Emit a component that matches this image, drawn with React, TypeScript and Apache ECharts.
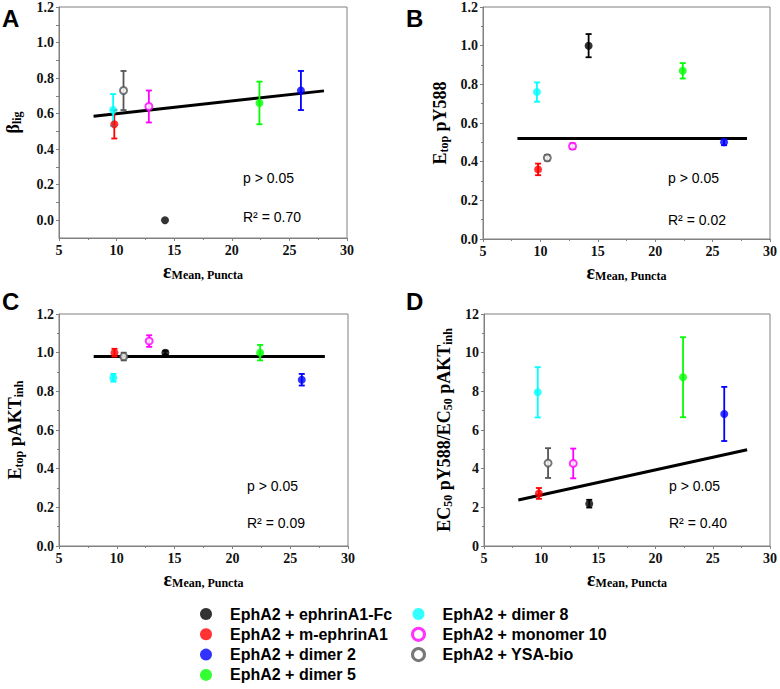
import React, { useEffect, useRef } from "react";
import * as echarts from "echarts";

const groups = [
  "EphA2 + ephrinA1-Fc",
  "EphA2 + m-ephrinA1",
  "EphA2 + dimer 2",
  "EphA2 + dimer 5",
  "EphA2 + dimer 8",
  "EphA2 + monomer 10",
  "EphA2 + YSA-bio",
];
const groupColors = ["#000000", "#ff0000", "#0000ff", "#00ff00", "#00ffff", "#ff00ff", "#555555"];
const hollowGroups = [false, false, false, false, false, true, true];

const epsilonMeanPuncta = [14.2, 9.8, 26.0, 22.4, 9.7, 12.8, 10.6];

const betaLig = [0.0, 0.54, 0.73, 0.66, 0.62, 0.64, 0.73];
const betaLigErr = [0, 0.08, 0.11, 0.12, 0.09, 0.09, 0.11];

const eTopPY588 = [1.0, 0.36, 0.5, 0.87, 0.76, 0.48, 0.42];
const eTopPY588Err = [0.06, 0.03, 0.015, 0.04, 0.05, 0.015, 0.015];

const eTopPAKTinh = [1.0, 1.0, 0.86, 1.0, 0.87, 1.06, 0.98];
const eTopPAKTinhErr = [0.01, 0.02, 0.03, 0.04, 0.02, 0.03, 0.02];

const ec50Ratio = [2.19, 2.72, 6.83, 8.73, 7.95, 4.27, 4.29];
const ec50RatioErr = [0.2, 0.28, 1.4, 2.07, 1.3, 0.77, 0.77];

const fitX = [8, 28];
const fitA = [0.585, 0.728];
const fitB = [0.52, 0.52];
const fitC = [0.98, 0.98];
const fitD = [2.38, 4.98];

const xTickValues = [5, 10, 15, 20, 25, 30];
const yTicksA = [0, 0.2, 0.4, 0.6, 0.8, 1.0, 1.2];
const yMinorTicksA = [0, 0.1, 0.2, 0.3, 0.4, 0.5, 0.6, 0.7, 0.8, 0.9, 1.0, 1.1, 1.2];

const panelLetters = ["A", "B", "C", "D"];
const pTexts = ["p > 0.05", "p > 0.05", "p > 0.05", "p > 0.05"];
const r2Texts = ["R\u00b2 = 0.70", "R\u00b2 = 0.02", "R\u00b2 = 0.09", "R\u00b2 = 0.40"];

const SERIF = "Liberation Serif";
const SANS = "Liberation Sans";
const AXIS_GRAY = "#808080";

const panelValues = [betaLig, eTopPY588, eTopPAKTinh, ec50Ratio];
const panelErrors = [betaLigErr, eTopPY588Err, eTopPAKTinhErr, ec50RatioErr];
const panelFits = [fitA, fitB, fitC, fitD];

const grids = [
  { left: 59, top: 7, width: 288, height: 231 },
  { left: 483, top: 7, width: 288, height: 232 },
  { left: 59, top: 314, width: 289, height: 232 },
  { left: 484, top: 314, width: 288, height: 232 },
];

const yNames = [
  "{m|\u03b2}{s|lig}",
  "{m|E}{s|top}{m| pY588}",
  "{m|E}{s|top}{m| pAKT}{s|inh}",
  "{m|EC}{s|50}{m| pY588/EC}{s|50}{m| pAKT}{s|inh}",
];
const yNameGaps = [36, 33, 34, 30];

const textPos = [
  { x: 243, py: 178, ry: 217 },
  { x: 668, py: 178, ry: 220 },
  { x: 247, py: 486, ry: 523 },
  { x: 669, py: 486, ry: 523 },
];
const letterPos = [
  { x: 2, y: 6 },
  { x: 406, y: 6 },
  { x: 2, y: 289 },
  { x: 406, y: 289 },
];

const richName = {
  m: { fontFamily: SERIF, fontWeight: "bold", fontSize: 18, color: "#000" },
  s: { fontFamily: SERIF, fontWeight: "bold", fontSize: 12, color: "#000", padding: [9, 0, 0, 0] },
};
const richX = {
  e: { fontFamily: SERIF, fontWeight: "bold", fontSize: 20, color: "#000" },
  s: { fontFamily: SERIF, fontWeight: "bold", fontSize: 12, color: "#000", padding: [9, 0, 0, 0] },
};

const tickLabelStyle = {
  fontFamily: SERIF,
  fontWeight: "bold",
  fontSize: 14,
  color: "#111",
  margin: 5,
};

function buildOption() {
  const xAxes = grids.map((_, i) => ({
    type: "value",
    gridIndex: i,
    min: 5,
    max: 30,
    interval: 5,
    name: "{e|\u03b5}{s|Mean, Puncta}",
    nameLocation: "middle",
    nameGap: 22,
    nameTextStyle: { rich: richX },
    axisLine: { show: true, onZero: false, lineStyle: { color: AXIS_GRAY, width: 1 } },
    axisTick: { show: true, inside: false, length: 3, lineStyle: { color: AXIS_GRAY } },
    minorTick: { show: true, splitNumber: 2, length: 2, lineStyle: { color: AXIS_GRAY } },
    splitLine: { show: false },
    axisLabel: { ...tickLabelStyle, customValues: xTickValues },
  }));

  const yAxes = grids.map((_, i) => {
    const base: any = {
      type: "value",
      gridIndex: i,
      name: yNames[i],
      nameLocation: "middle",
      nameRotate: 90,
      nameGap: yNameGaps[i],
      nameTextStyle: { rich: richName },
      axisLine: { show: true, onZero: false, lineStyle: { color: AXIS_GRAY, width: 1 } },
      axisTick: { show: true, inside: false, length: 3, lineStyle: { color: AXIS_GRAY } },
      splitLine: { show: false },
      axisLabel: {
        ...tickLabelStyle,
        formatter: (v: number) => (i === 3 ? String(Math.round(v)) : v.toFixed(1)),
      },
    };
    if (i === 0) {
      base.min = -0.1;
      base.max = 1.2;
      base.axisLabel.customValues = yTicksA;
      base.axisTick.customValues = yMinorTicksA;
    } else if (i === 3) {
      base.min = 0;
      base.max = 12;
      base.interval = 2;
      base.minorTick = { show: true, splitNumber: 2, length: 2, lineStyle: { color: AXIS_GRAY } };
    } else {
      base.min = 0;
      base.max = 1.2;
      base.interval = 0.2;
      base.minorTick = { show: true, splitNumber: 2, length: 2, lineStyle: { color: AXIS_GRAY } };
    }
    return base;
  });

  const series: any[] = [];
  grids.forEach((_, p) => {
    series.push({
      type: "line",
      xAxisIndex: p,
      yAxisIndex: p,
      data: fitX.map((x, k) => [x, panelFits[p][k]]),
      symbol: "none",
      lineStyle: { color: "#000", width: 3 },
      z: 2,
      silent: true,
    });
    series.push({
      type: "custom",
      xAxisIndex: p,
      yAxisIndex: p,
      z: 3,
      silent: true,
      data: groups.map((_, g) => [
        epsilonMeanPuncta[g],
        panelValues[p][g] - panelErrors[p][g],
        panelValues[p][g] + panelErrors[p][g],
        g,
        panelErrors[p][g],
      ]),
      encode: { x: 0, y: [1, 2] },
      renderItem: (params: any, api: any) => {
        const err = api.value(4);
        if (!err) return { type: "group", children: [] };
        const x = api.value(0);
        const top = api.coord([x, api.value(2)]);
        const bot = api.coord([x, api.value(1)]);
        const c = groupColors[api.value(3)];
        const half = 3;
        const style = { stroke: c, lineWidth: 1.8 };
        return {
          type: "group",
          children: [
            { type: "line", shape: { x1: top[0], y1: top[1], x2: bot[0], y2: bot[1] }, style },
            { type: "line", shape: { x1: top[0] - half, y1: top[1], x2: top[0] + half, y2: top[1] }, style },
            { type: "line", shape: { x1: bot[0] - half, y1: bot[1], x2: bot[0] + half, y2: bot[1] }, style },
          ],
        };
      },
    });
    groups.forEach((name, g) => {
      series.push({
        type: "scatter",
        name,
        xAxisIndex: p,
        yAxisIndex: p,
        z: 4,
        symbol: "circle",
        symbolSize: hollowGroups[g] ? 7 : 8,
        itemStyle: hollowGroups[g]
          ? { color: "#ffffff", borderColor: groupColors[g], borderWidth: 2 }
          : { color: groupColors[g] },
        data: [[epsilonMeanPuncta[g], panelValues[p][g]]],
      });
    });
  });

  const legendItem = (g: number) => ({
    name: groups[g],
    icon: "circle",
    itemStyle: hollowGroups[g]
      ? { color: "#ffffff", borderColor: groupColors[g], borderWidth: 3 }
      : { color: groupColors[g], borderWidth: 0 },
  });
  const legendCommon = {
    orient: "vertical",
    top: 606,
    height: 120,
    padding: 0,
    itemWidth: 12,
    itemHeight: 12,
    itemGap: 4.3,
    selectedMode: false,
    textStyle: {
      fontFamily: SANS,
      fontWeight: "bold",
      fontSize: 16,
      color: "#000",
      lineHeight: 16,
      padding: [0, 0, 0, 13],
    },
  };

  const graphics: any[] = [];
  panelLetters.forEach((l, i) => {
    graphics.push({
      type: "text",
      left: letterPos[i].x,
      top: letterPos[i].y,
      style: { text: l, fontFamily: SANS, fontWeight: "bold", fontSize: 24, fill: "#000" },
    });
    graphics.push({
      type: "text",
      x: textPos[i].x,
      y: textPos[i].py,
      style: { text: pTexts[i], fontFamily: SANS, fontSize: 14, fill: "#000", align: "left", verticalAlign: "middle" },
    });
    graphics.push({
      type: "text",
      x: textPos[i].x,
      y: textPos[i].ry,
      style: { text: r2Texts[i], fontFamily: SANS, fontSize: 14, fill: "#000", align: "left", verticalAlign: "middle" },
    });
  });

  return {
    animation: false,
    backgroundColor: "#ffffff",
    grid: grids.map((g) => ({ ...g, show: true, borderColor: AXIS_GRAY, borderWidth: 1, backgroundColor: "transparent" })),
    xAxis: xAxes,
    yAxis: yAxes,
    legend: [
      { ...legendCommon, left: 200, data: [0, 1, 2, 3].map(legendItem) },
      { ...legendCommon, left: 411, data: [4, 5, 6].map(legendItem) },
    ],
    graphic: graphics,
    series,
  };
}

export default function App() {
  const ref = useRef<HTMLDivElement>(null);
  useEffect(() => {
    document.body.style.margin = "0";
    if (!ref.current) return;
    const chart = echarts.init(ref.current, null, { renderer: "svg" });
    chart.setOption(buildOption() as any);
    return () => chart.dispose();
  }, []);
  return <div ref={ref} style={{ width: 780, height: 689 }} />;
}
